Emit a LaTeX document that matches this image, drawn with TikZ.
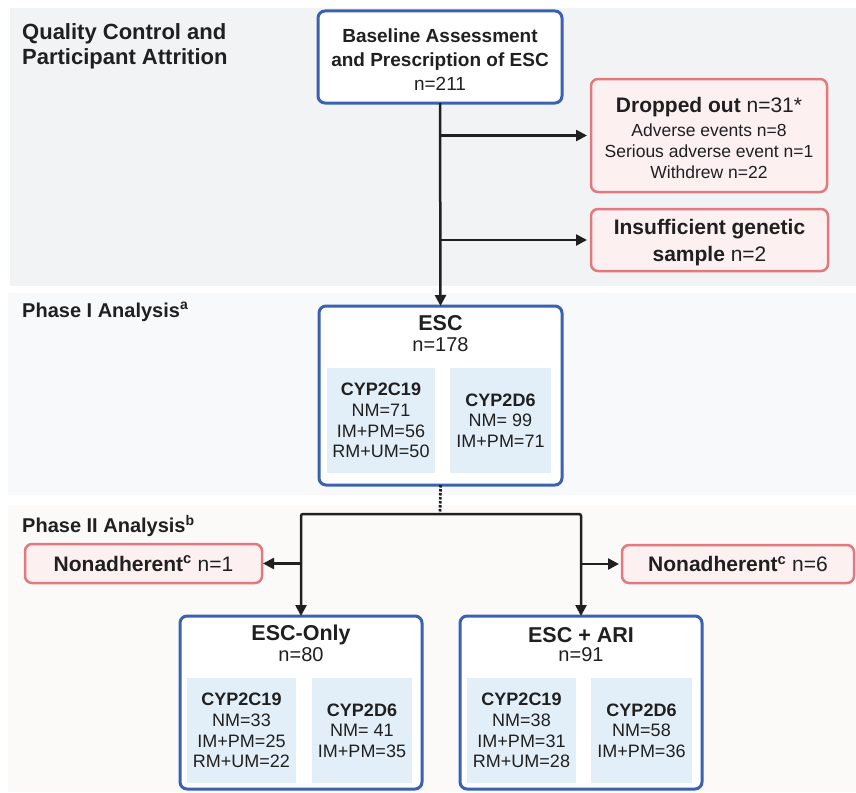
\documentclass[tikz,border=0pt]{standalone}
\usepackage{fontspec}
\setmainfont{Liberation Sans}
\definecolor{qcgray}{RGB}{242, 243, 245}
\definecolor{phaseone}{RGB}{248, 249, 250}
\definecolor{phasetwo}{RGB}{252, 249, 249}
\definecolor{armblue}{RGB}{58, 98, 176}
\definecolor{lossred}{RGB}{226, 121, 127}
\definecolor{lossfill}{RGB}{252, 240, 241}
\definecolor{genefill}{RGB}{227, 239, 248}
\definecolor{inkdark}{RGB}{32, 32, 32}
\usetikzlibrary{arrows.meta, positioning}

\begin{document}
\begin{tikzpicture}[x=1pt, y=-1pt, inkdark,
    armbox/.style={draw=armblue, line width=3pt, rounded corners=7pt, fill=white, inner sep=0pt, outer sep=0pt},
    lossbox/.style={draw=lossred, line width=2.5pt, rounded corners=7pt, fill=lossfill, inner sep=0pt, outer sep=0pt, align=center},
    genebox/.style={fill=genefill, inner sep=0pt, align=center, font=\fontsize{18}{20.7}\selectfont},
    boxtext/.style={inner sep=0pt, align=center},
    heading/.style={font=\fontsize{20}{25}\selectfont\bfseries, align=left, anchor=north west, inner sep=0pt},
    armtitle/.style={font=\fontsize{21.5}{22}\selectfont\bfseries, inner sep=0pt},
    armcount/.style={font=\fontsize{20}{22}\selectfont, inner sep=0pt},
    flow/.style={line width=2.5pt, draw=inkdark},
    flowarrow/.style={flow, -{Triangle[length=11pt, width=11pt]}}]
  \useasboundingbox (0, 0) rectangle (856, 792);
  \fill[white] (0, 0) rectangle (856, 792);

  % Panels
  \fill[qcgray] (10, 8) rectangle (856, 286);
  \fill[phaseone] (8, 293) rectangle (856, 495);
  \fill[phasetwo] (8, 505) rectangle (856, 792);

  \node[heading, font=\fontsize{22}{25}\selectfont\bfseries] (qc) at (22, 23) {Quality Control and\\Participant Attrition};
  \node[heading] (phaseI) at (22, 302) {Phase I Analysis\textsuperscript{a}};
  \node[heading] (phaseII) at (22, 515) {Phase II Analysis\textsuperscript{b}};

  % Quality control and attrition
  \node[armbox, minimum width=244, minimum height=92] (base) at (440, 57) {};
  \node[boxtext, font=\fontsize{19}{24}\selectfont] (basetext) at (440, 60)
    {\textbf{Baseline Assessment}\\\textbf{and Prescription of ESC}\\n=211};
  \node[lossbox, minimum width=236, minimum height=113] (drop) at (709, 135.5) {};
  \node[boxtext, font=\fontsize{17.5}{21}\selectfont] (droptext) at (709, 137.5)
    {{\fontsize{21}{21}\selectfont\textbf{Dropped out} n=31*}\\[3pt]Adverse events n=8\\Serious adverse event n=1\\Withdrew n=22};
  \node[lossbox, minimum width=237, minimum height=62] (gene) at (709.5, 240) {};
  \node[boxtext, font=\fontsize{21}{27}\selectfont] (genetext) at (709.5, 242.5)
    {\textbf{Insufficient genetic}\\\textbf{sample} n=2};

  % Phase I
  \node[armbox, minimum width=243, minimum height=179] (esc) at (440.5, 395.5) {};
  \node[armtitle] (esctitle) at (440.5, 323) {ESC};
  \node[armcount] (esccount) at (440.5, 345) {n=178};
  \node[genebox, minimum width=108, minimum height=105] (esc2c19) at (381, 420.5)
    {\textbf{CYP2C19}\\NM=71\\IM+PM=56\\RM+UM=50};
  \node[genebox, minimum width=101, minimum height=105] (esc2d6) at (500.5, 420.5)
    {\textbf{CYP2D6}\\NM= 99\\IM+PM=71};

  % Phase II
  \node[lossbox, minimum width=237, minimum height=39, font=\fontsize{21}{24}\selectfont] (nonleft) at (143.5, 563.5)
    {\textbf{Nonadherent\textsuperscript{c}} n=1};
  \node[lossbox, minimum width=232, minimum height=38, font=\fontsize{21}{24}\selectfont] (nonright) at (738, 564)
    {\textbf{Nonadherent\textsuperscript{c}} n=6};

  \node[armbox, minimum width=242, minimum height=173] (only) at (301, 702.5) {};
  \node[armtitle] (onlytitle) at (301, 635) {ESC-Only};
  \node[armcount] (onlycount) at (301, 655) {n=80};
  \node[genebox, minimum width=109, minimum height=105] (only2c19) at (241.5, 730.5)
    {\textbf{CYP2C19}\\NM=33\\IM+PM=25\\RM+UM=22};
  \node[genebox, minimum width=100, minimum height=105] (only2d6) at (362, 730.5)
    {\textbf{CYP2D6}\\NM= 41\\IM+PM=35};

  \node[armbox, minimum width=242, minimum height=173] (ari) at (581, 702.5) {};
  \node[armtitle] (arititle) at (581, 635) {ESC + ARI};
  \node[armcount] (aricount) at (581, 655) {n=91};
  \node[genebox, minimum width=109, minimum height=105] (ari2c19) at (521.5, 730.5)
    {\textbf{CYP2C19}\\NM=38\\IM+PM=31\\RM+UM=28};
  \node[genebox, minimum width=101, minimum height=105] (ari2d6) at (641.5, 730.5)
    {\textbf{CYP2D6}\\NM=58\\IM+PM=36};

  % Connectors
  \draw[flowarrow] (base.south) -- (esc.north);
  \draw[flowarrow, shorten >=4pt] (base.south |- drop.west) -- (drop.west);
  \draw[flowarrow, shorten >=4pt] (base.south |- gene.west) -- (gene.west);

  \coordinate (split) at (440, 514);
  \draw[line width=2.8pt, dash pattern=on 2.5pt off 1.5pt] (esc.south) -- (split);
  \draw[flowarrow, rounded corners=2pt] (split) -| (only.north);
  \draw[flowarrow, rounded corners=2pt] (split) -| (ari.north);
  \draw[flowarrow, shorten >=1pt] (only.north |- nonleft.east) -- (nonleft.east);
  \draw[flowarrow, shorten >=3pt] (ari.north |- nonright.west) -- (nonright.west);
\end{tikzpicture}
\end{document}
